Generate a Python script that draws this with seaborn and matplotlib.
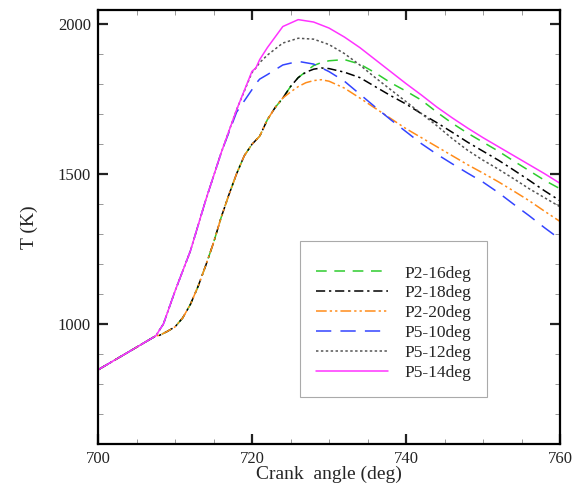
"""Cylinder temperature vs crank angle for six injection cases."""

import matplotlib as mpl
import matplotlib.pyplot as plt
import pandas as pd
import seaborn as sns
from matplotlib.ticker import MultipleLocator

mpl.use('Agg')

# Shared compression branch (all cases)
ANGLE_COMMON = [700, 704, 707.5]
T_COMMON = [847, 907, 960]

# P5 cases: rise early
ANGLE_P5 = [708.5, 710, 712, 714, 716, 718, 720, 720.5, 721, 722, 724, 726, 728,
            730, 732, 734, 736, 738, 740, 742, 744, 746, 748, 750, 752, 754,
            756, 758, 760]
T_P5_14 = [1000, 1109, 1243, 1413, 1570, 1713, 1841, 1852, 1880, 1920, 1990,
           2013, 2005, 1985, 1955, 1920, 1880, 1840, 1800, 1762, 1722, 1686,
           1652, 1620, 1590, 1560, 1530, 1500, 1468]
T_P5_12 = [1000, 1109, 1243, 1413, 1570, 1713, 1837, 1852, 1870, 1895, 1935,
           1951, 1948, 1930, 1900, 1862, 1820, 1780, 1740, 1700, 1660, 1617,
           1578, 1545, 1515, 1483, 1450, 1420, 1390]
T_P5_10 = [1000, 1109, 1243, 1413, 1570, 1705, 1780, 1800, 1815, 1830, 1862,
           1874, 1865, 1840, 1808, 1765, 1722, 1680, 1640, 1600, 1565, 1533,
           1502, 1472, 1437, 1398, 1360, 1320, 1282]

# P2 cases: rise later
ANGLE_P2 = [708, 709, 710, 711, 712, 713, 714, 715, 716, 717, 718, 719, 720,
            721, 722, 723, 724, 725, 726, 727, 728, 729, 730, 732, 734, 736,
            738, 740, 742, 744, 746, 748, 750, 752, 754, 756, 758, 760]
T_P2_16 = [962, 975, 990, 1020, 1065, 1125, 1195, 1270, 1355, 1430, 1500, 1560,
           1598, 1625, 1680, 1720, 1752, 1790, 1820, 1840, 1860, 1870, 1876,
           1880, 1865, 1836, 1803, 1775, 1745, 1705, 1668, 1635, 1605, 1575,
           1542, 1510, 1478, 1450]
T_P2_18 = [962, 975, 990, 1020, 1065, 1125, 1195, 1270, 1355, 1430, 1500, 1560,
           1598, 1625, 1680, 1720, 1752, 1790, 1820, 1838, 1848, 1852, 1850,
           1838, 1820, 1790, 1760, 1732, 1700, 1670, 1638, 1605, 1575, 1545,
           1512, 1478, 1443, 1410]
T_P2_20 = [962, 975, 990, 1020, 1065, 1125, 1195, 1270, 1355, 1430, 1500, 1560,
           1598, 1625, 1680, 1720, 1752, 1772, 1790, 1803, 1810, 1813, 1808,
           1785, 1752, 1718, 1684, 1650, 1620, 1590, 1560, 1530, 1502, 1473,
           1442, 1410, 1375, 1341]

SERIES = [
    ("P2-16deg", ANGLE_P2, T_P2_16, "#2ecc2e", (7, 5)),
    ("P2-18deg", ANGLE_P2, T_P2_18, "#000000", (6, 2.5, 1.5, 2.5)),
    ("P2-20deg", ANGLE_P2, T_P2_20, "#ff8c1a", (7, 2, 1.5, 2, 1.5, 2)),
    ("P5-10deg", ANGLE_P5, T_P5_10, "#3344ff", (10, 6)),
    ("P5-12deg", ANGLE_P5, T_P5_12, "#555555", (1.6, 1.6)),
    ("P5-14deg", ANGLE_P5, T_P5_14, "#ff33ff", ""),
]


def main():
    sns.set_theme(style="ticks")
    plt.rcParams['font.family'] = ['Liberation Serif', 'DejaVu Serif']

    fig = plt.figure(figsize=(5.82, 4.84), dpi=100)
    ax = fig.add_axes([0.1684, 0.0826, 0.7938, 0.8967])

    for label, angle, temp, color, dash in SERIES:
        df = pd.DataFrame({"angle": ANGLE_COMMON + angle,
                           "T": T_COMMON + temp})
        kws = {} if dash == "" else {"dashes": dash}
        sns.lineplot(data=df, x="angle", y="T", color=color, lw=1.1,
                     label=label, sort=False, estimator=None, ax=ax, **kws)

    # Axes and ticks
    ax.set_xlim(700, 760)
    ax.set_ylim(600, 2045)
    ax.xaxis.set_major_locator(MultipleLocator(20))
    ax.xaxis.set_minor_locator(MultipleLocator(5))
    ax.yaxis.set_major_locator(MultipleLocator(500))
    ax.yaxis.set_minor_locator(MultipleLocator(100))
    ax.tick_params(which="major", direction="in", length=7, width=1.6,
                   top=True, right=True, labelsize=12, colors="#222222",
                   pad=5)
    ax.tick_params(which="minor", direction="in", length=3.5, width=0.6,
                   top=True, right=True, color="#888888")
    for sp in ax.spines.values():
        sp.set_linewidth(1.6)
        sp.set_color("black")
    ax.set_xlabel("Crank  angle (deg)", fontsize=14, labelpad=-1)
    ax.set_ylabel("T (K)", fontsize=14, labelpad=14)

    leg = ax.legend(loc="upper left", bbox_to_anchor=(0.437, 0.468),
                    fontsize=12.5, title=" ", title_fontsize=5,
                    handlelength=4.2, handletextpad=0.9, labelspacing=0.22,
                    borderpad=0.9, borderaxespad=0, fancybox=False,
                    frameon=True, framealpha=1)
    leg.get_frame().set_edgecolor("#aaaaaa")
    leg.get_frame().set_linewidth(0.8)

    fig.savefig("out.png", dpi=100)
    plt.close(fig)


if __name__ == '__main__':
    main()
